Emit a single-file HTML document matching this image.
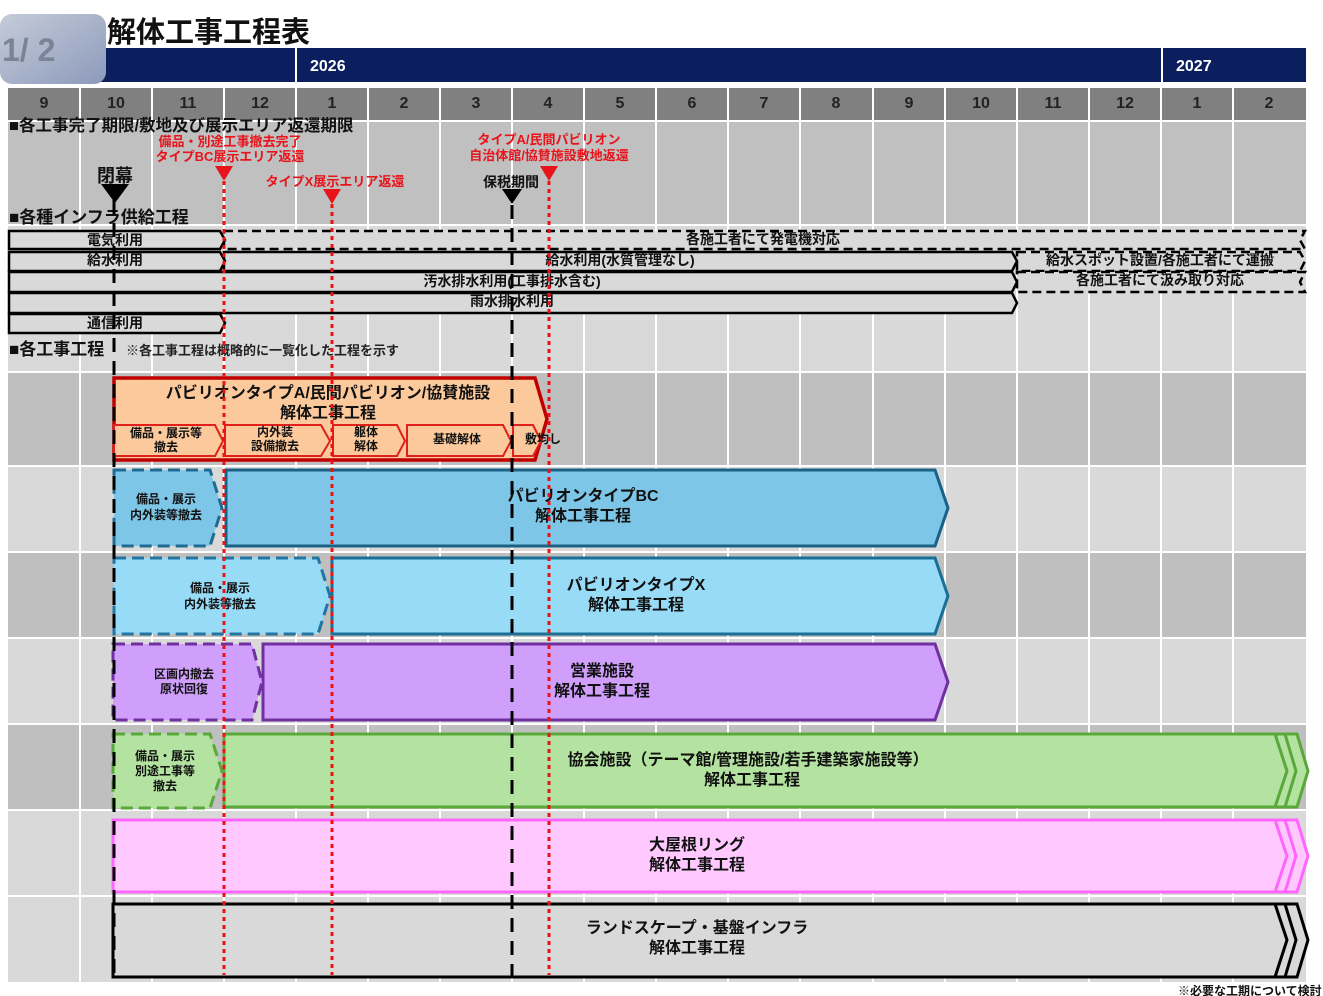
<!DOCTYPE html>
<html><head><meta charset="utf-8"><style>
html,body{margin:0;padding:0;background:#fff;}
svg{display:block;}
text{font-family:"Liberation Sans","Noto Sans CJK JP",sans-serif;font-weight:bold;}
</style></head><body>
<svg width="1323" height="996" viewBox="0 0 1323 996" xmlns="http://www.w3.org/2000/svg">
<defs>
<linearGradient id="tab" x1="0" y1="0" x2="1" y2="1"><stop offset="0" stop-color="#c5ccd9"/><stop offset="1" stop-color="#8c9abb"/></linearGradient>
</defs>
<text x="107" y="42" font-size="29" fill="#111">解体工事工程表</text>
<rect x="100" y="48" width="1206" height="34" fill="#0b1f5e"/>
<line x1="296" y1="48" x2="296" y2="82" stroke="#fff" stroke-width="2"/>
<line x1="1162" y1="48" x2="1162" y2="82" stroke="#fff" stroke-width="2"/>
<text x="310" y="71" font-size="16" fill="#fff">2026</text>
<text x="1176" y="71" font-size="16" fill="#fff">2027</text>
<rect x="0" y="14" width="106" height="70" rx="12" fill="url(#tab)"/>
<text x="2" y="61" font-size="32" fill="#7a8494" font-weight="normal">1/ 2</text>
<rect x="8" y="88" width="1298" height="33" fill="#808080"/>
<rect x="8" y="121" width="1298" height="104" fill="#c0c0c0"/>
<rect x="8" y="225" width="1298" height="147" fill="#d9d9d9"/>
<rect x="8" y="372" width="1298" height="94" fill="#bfbfbf"/>
<rect x="8" y="466" width="1298" height="86" fill="#d9d9d9"/>
<rect x="8" y="552" width="1298" height="86" fill="#bfbfbf"/>
<rect x="8" y="638" width="1298" height="86" fill="#d9d9d9"/>
<rect x="8" y="724" width="1298" height="86" fill="#bfbfbf"/>
<rect x="8" y="810" width="1298" height="86" fill="#d9d9d9"/>
<rect x="8" y="896" width="1298" height="86" fill="#d9d9d9"/>
<g stroke="#fff" stroke-width="2">
<line x1="80" y1="88" x2="80" y2="982"/><line x1="152" y1="88" x2="152" y2="982"/><line x1="224" y1="88" x2="224" y2="982"/><line x1="296" y1="88" x2="296" y2="982"/><line x1="368" y1="88" x2="368" y2="982"/><line x1="440" y1="88" x2="440" y2="982"/><line x1="512" y1="88" x2="512" y2="982"/><line x1="584" y1="88" x2="584" y2="982"/><line x1="656" y1="88" x2="656" y2="982"/><line x1="728" y1="88" x2="728" y2="982"/><line x1="800" y1="88" x2="800" y2="982"/><line x1="873" y1="88" x2="873" y2="982"/><line x1="945" y1="88" x2="945" y2="982"/><line x1="1017" y1="88" x2="1017" y2="982"/><line x1="1089" y1="88" x2="1089" y2="982"/><line x1="1161" y1="88" x2="1161" y2="982"/><line x1="1233" y1="88" x2="1233" y2="982"/>
<line x1="8" y1="121" x2="1306" y2="121"/><line x1="8" y1="225" x2="1306" y2="225"/><line x1="8" y1="372" x2="1306" y2="372"/><line x1="8" y1="466" x2="1306" y2="466"/><line x1="8" y1="552" x2="1306" y2="552"/><line x1="8" y1="638" x2="1306" y2="638"/><line x1="8" y1="724" x2="1306" y2="724"/><line x1="8" y1="810" x2="1306" y2="810"/><line x1="8" y1="896" x2="1306" y2="896"/>
</g>
<g font-size="16" fill="#222" font-weight="normal" text-anchor="middle">
<text x="44" y="108">9</text><text x="116" y="108">10</text><text x="188" y="108">11</text><text x="260" y="108">12</text><text x="332" y="108">1</text><text x="404" y="108">2</text><text x="476" y="108">3</text><text x="548" y="108">4</text><text x="620" y="108">5</text><text x="692" y="108">6</text><text x="764" y="108">7</text><text x="836" y="108">8</text><text x="909" y="108">9</text><text x="981" y="108">10</text><text x="1053" y="108">11</text><text x="1125" y="108">12</text><text x="1197" y="108">1</text><text x="1269" y="108">2</text>
</g>
<text x="9" y="131" font-size="16.5" fill="#111">■各工事完了期限/敷地及び展示エリア返還期限</text>
<g font-size="13" fill="#e8141b" text-anchor="middle">
<text x="230" y="146">備品・別途工事撤去完了</text>
<text x="230" y="161">タイプBC展示エリア返還</text>
<text x="335" y="186">タイプX展示エリア返還</text>
<text x="549" y="144">タイプA/民間パビリオン</text>
<text x="549" y="160">自治体館/協賛施設敷地返還</text>
</g>
<text x="115" y="182" font-size="18" fill="#111" text-anchor="middle">閉幕</text>
<text x="511" y="187" font-size="14" fill="#111" text-anchor="middle">保税期間</text>
<polygon points="101,184 129,184 115,203" fill="#000"/>
<polygon points="502,189 522,189 512,204" fill="#000"/>
<polygon points="215,166 233,166 224,181" fill="#e8141b"/>
<polygon points="323,189 341,189 332,204" fill="#e8141b"/>
<polygon points="540,166 558,166 549,181" fill="#e8141b"/>
<text x="9" y="223" font-size="17" fill="#111">■各種インフラ供給工程</text>
<g stroke="#000" stroke-width="2.5" fill="#d9d9d9">
<polygon points="224,231 1305,231 1300,240 1305,249 224,249" stroke-dasharray="9,5"/>
<polygon points="1017,252 1300,252 1305,261 1300,271 1017,271" stroke-dasharray="9,5"/>
<polygon points="1017,272 1305,272 1300,282 1305,292 1017,292" stroke-dasharray="9,5"/>
<polygon points="9,231 220,231 225,240 220,249 9,249"/>
<polygon points="224,252 1012,252 1017,261 1012,271 224,271"/>
<polygon points="9,252 220,252 225,261 220,271 9,271"/>
<polygon points="9,272 1012,272 1017,282 1012,292 9,292"/>
<polygon points="9,293 1012,293 1017,303 1012,313 9,313"/>
<polygon points="9,314 220,314 225,323 220,333 9,333"/>
</g>
<g font-size="14" fill="#111" text-anchor="middle">
<text x="115" y="245">電気利用</text><text x="763" y="244">各施工者にて発電機対応</text>
<text x="115" y="265">給水利用</text><text x="620" y="265">給水利用(水質管理なし)</text><text x="1160" y="265">給水スポット設置/各施工者にて運搬</text>
<text x="512" y="286">汚水排水利用(工事排水含む)</text><text x="1160" y="285">各施工者にて汲み取り対応</text>
<text x="512" y="306">雨水排水利用</text>
<text x="115" y="328">通信利用</text>
</g>
<text x="9" y="355" font-size="17" fill="#111">■各工事工程</text>
<text x="126" y="355" font-size="13" fill="#222" font-weight="normal">※各工事工程は概略的に一覧化した工程を示す</text>
<polygon points="114,378 535,378 547,419 535,460 114,460" fill="#fbc99b" stroke="#c00000" stroke-width="3.5"/>
<g fill="#fbc99b" stroke="#e0201a" stroke-width="2">
<polygon points="114,425 215,425 223,441 215,456 114,456"/>
<polygon points="225,425 321,425 330,441 321,456 225,456"/>
<polygon points="333,425 397,425 405,441 397,456 333,456"/>
<polygon points="407,425 503,425 511,441 503,456 407,456"/>
<polygon points="513,425 533,425 541,441 533,456 513,456"/>
</g>
<g font-size="16" fill="#111" text-anchor="middle"><text x="328" y="398">パビリオンタイプA/民間パビリオン/協賛施設</text><text x="328" y="418">解体工事工程</text></g>
<g font-size="12" fill="#111" text-anchor="middle">
<text x="166" y="437">備品・展示等</text><text x="166" y="451">撤去</text>
<text x="275" y="436">内外装</text><text x="275" y="450">設備撤去</text>
<text x="366" y="436">躯体</text><text x="366" y="450">解体</text>
<text x="457" y="443">基礎解体</text><text x="543" y="443">敷均し</text>
</g>
<polygon points="226,470 935,470 948,508 935,546 226,546" fill="#7ec6e8" stroke="#1a6185" stroke-width="3"/>
<polygon points="114,470 210,470 222,508 210,546 114,546" fill="#7ec6e8" stroke="#1e6b93" stroke-width="3" stroke-dasharray="12,6"/>
<polygon points="332,558 935,558 948,596 935,634 332,634" fill="#97dbf7" stroke="#1a6f96" stroke-width="3"/>
<polygon points="114,558 318,558 330,596 318,634 114,634" fill="#97dbf7" stroke="#2175a0" stroke-width="3" stroke-dasharray="12,6"/>
<polygon points="263,644 935,644 948,682 935,720 263,720" fill="#cf9ffb" stroke="#7030a0" stroke-width="3"/>
<polygon points="113,644 252,644 262,682 252,720 113,720" fill="#cf9ffb" stroke="#7030a0" stroke-width="3" stroke-dasharray="12,6"/>
<g fill="#b4e2a0" stroke="#59a83a" stroke-width="3">
<polygon points="1283,734 1297,734 1308,771 1297,807 1283,807 1294,771"/>
<polygon points="1275,734 1285,734 1296,771 1285,807 1275,807 1286,771"/>
<polygon points="224,734 1275,734 1287,771 1275,807 224,807"/>
</g>
<polygon points="113,734 210,734 222,771 210,808 113,808" fill="#b4e2a0" stroke="#59a83a" stroke-width="3" stroke-dasharray="12,6"/>
<g fill="#ffc9ff" stroke="#ff66ff" stroke-width="3">
<polygon points="1283,820 1297,820 1308,856 1297,892 1283,892 1294,856"/>
<polygon points="1275,820 1285,820 1296,856 1285,892 1275,892 1286,856"/>
<polygon points="113,820 1275,820 1287,856 1275,892 113,892"/>
</g>
<g fill="#d9d9d9" stroke="#000" stroke-width="3">
<polygon points="1283,904 1297,904 1308,940 1297,977 1283,977 1294,940"/>
<polygon points="1275,904 1285,904 1296,940 1285,977 1275,977 1286,940"/>
<polygon points="113,904 1275,904 1287,940 1275,977 113,977"/>
</g>
<g font-size="16" fill="#111" text-anchor="middle">
<text x="583" y="501">パビリオンタイプBC</text><text x="583" y="521">解体工事工程</text>
<text x="636" y="590">パビリオンタイプX</text><text x="636" y="610">解体工事工程</text>
<text x="602" y="676">営業施設</text><text x="602" y="696">解体工事工程</text>
<text x="748" y="765">協会施設（テーマ館/管理施設/若手建築家施設等）</text><text x="752" y="785">解体工事工程</text>
<text x="697" y="850">大屋根リング</text><text x="697" y="870">解体工事工程</text>
<text x="697" y="933">ランドスケープ・基盤インフラ</text><text x="697" y="953">解体工事工程</text>
</g>
<g font-size="12" fill="#111" text-anchor="middle">
<text x="166" y="503">備品・展示</text><text x="166" y="519">内外装等撤去</text>
<text x="220" y="592">備品・展示</text><text x="220" y="608">内外装等撤去</text>
<text x="184" y="678">区画内撤去</text><text x="184" y="693">原状回復</text>
<text x="165" y="760">備品・展示</text><text x="165" y="775">別途工事等</text><text x="165" y="790">撤去</text>
</g>
<line x1="114" y1="200" x2="114" y2="980" stroke="#000" stroke-width="3" stroke-dasharray="14,9"/>
<line x1="512" y1="205" x2="512" y2="980" stroke="#000" stroke-width="3" stroke-dasharray="14,9"/>
<g stroke="#ee1111" stroke-width="3" stroke-dasharray="4,4">
<line x1="224" y1="181" x2="224" y2="975"/>
<line x1="332" y1="204" x2="332" y2="975"/>
<line x1="549" y1="181" x2="549" y2="975"/>
</g>
<text x="1178" y="995" font-size="12" fill="#111" font-weight="normal">※必要な工期について検討</text>
</svg>
</body></html>
